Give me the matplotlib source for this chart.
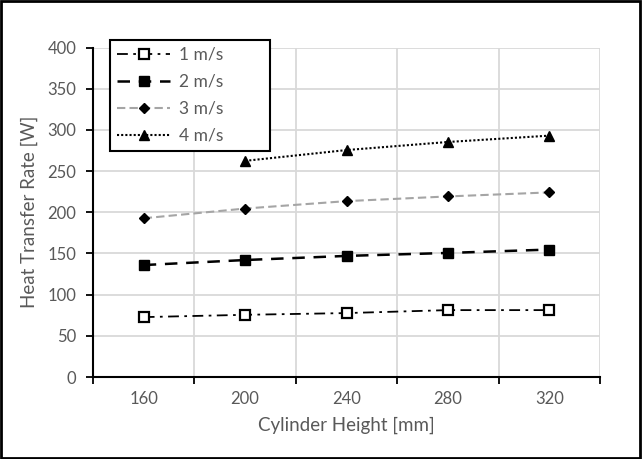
import numpy as np
import matplotlib
matplotlib.use("Agg")
import matplotlib.pyplot as plt
from matplotlib.patches import Rectangle

plt.rcParams['font.family'] = ['Lato', 'DejaVu Sans']

# data
heights = ['160', '200', '240', '280', '320']
v1 = [72.7, 75.5, 77.6, 81.2, 81.2]
v2 = [135.9, 142.0, 147.0, 150.6, 154.7]
v3 = [192.7, 204.5, 213.5, 219.2, 224.1]
v4_heights = ['200', '240', '280', '320']
v4 = [262.4, 275.5, 285.3, 293.0]

txt = '#595959'
grid = '#D9D9D9'

fig = plt.figure(figsize=(6.42, 4.59), dpi=100)
ax = fig.add_axes([93/642, 1-377/459, (600-93)/642, (377-47.5)/459])

x = np.arange(len(heights))
x4 = np.array([heights.index(h) for h in v4_heights])

ax.plot(x, v1, color='black', lw=1.3, dashes=(6, 3, 1.5, 3), marker='s',
        ms=6.5, mfc='white', mec='black', mew=1.6, label='1 m/s')
ax.plot(x, v2, color='black', lw=1.8, dashes=(5, 3.5), marker='s',
        ms=7, mfc='black', mec='black', label='2 m/s')
ax.plot(x, v3, color='#A5A5A5', lw=1.5, dashes=(4, 2), marker='D',
        ms=5.5, mfc='black', mec='black', label='3 m/s')
ax.plot(x4, v4, color='black', lw=1.5, dashes=(1, 1), marker='^',
        ms=7, mfc='black', mec='black', label='4 m/s')

ax.set_xlim(-0.5, 4.5)
ax.set_ylim(0, 400)
ax.set_yticks(np.arange(0, 401, 50))
ax.set_xticks(np.arange(-0.5, 4.6, 1))
ax.set_xticklabels([])
ax.set_xticks(x, minor=True)
ax.set_xticklabels(heights, minor=True)
ax.tick_params(axis='x', which='major', length=5, width=1.3, color='black', direction='out')
ax.tick_params(axis='x', which='minor', length=0, pad=10, labelsize=12, labelcolor=txt)
ax.tick_params(axis='y', length=5, width=1.3, color='black', direction='out',
               labelsize=12, labelcolor=txt, pad=7)

ax.grid(True, which='major', color=grid, lw=1.3)
ax.set_axisbelow(True)
for s in ['top', 'right']:
    ax.spines[s].set_visible(False)
for s in ['left', 'bottom']:
    ax.spines[s].set_linewidth(1.5)
    ax.spines[s].set_zorder(3)

ax.set_xlabel('Cylinder Height [mm]', fontsize=13.5, color=txt, labelpad=7)
ax.set_ylabel('Heat Transfer Rate [W]', fontsize=13.5, color=txt, labelpad=7)

leg = ax.legend(loc='upper left',
                bbox_to_anchor=(110/642, 1-148/459, 160/642, 108/459),
                bbox_transform=fig.transFigure, borderaxespad=0, mode='expand',
                fontsize=12.5, handlelength=3.1, labelspacing=0.64,
                handletextpad=0.5, fancybox=False, framealpha=1,
                borderpad=0.38)
leg.get_frame().set_edgecolor('black')
leg.get_frame().set_linewidth(1.5)
for t in leg.get_texts():
    t.set_color(txt)

fig.patches.append(Rectangle((0.002, 0.003), 0.995, 0.994, transform=fig.transFigure,
                             fill=False, edgecolor='black', lw=2))

fig.savefig('out.png', dpi=100)
